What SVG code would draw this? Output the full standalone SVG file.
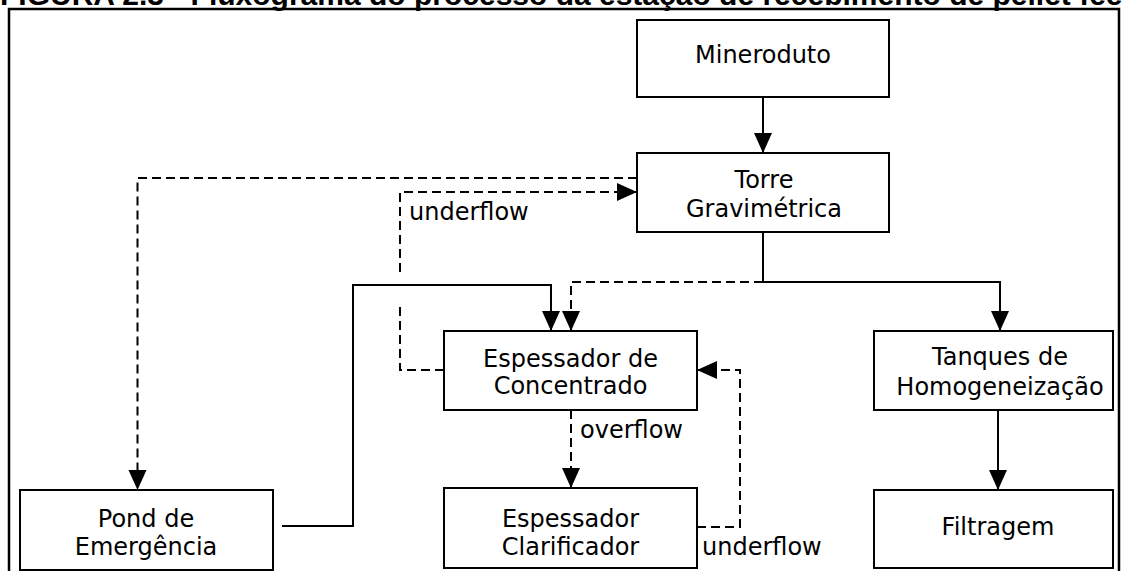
<svg xmlns="http://www.w3.org/2000/svg" width="1123" height="571" viewBox="0 0 1123 571">
<defs>
<marker id="ah" markerUnits="userSpaceOnUse" markerWidth="20" markerHeight="20" viewBox="0 0 20 20" refX="20" refY="10" orient="auto">
<path d="M0,1 L20,10 L0,19 Z" fill="#000"/>
</marker>
</defs>
<style>
.box{fill:#fff;stroke:#000;stroke-width:2}
.t{font-family:"DejaVu Sans",Verdana,sans-serif;font-size:24px;fill:#000;text-anchor:middle}
.lbl{font-family:"DejaVu Sans",Verdana,sans-serif;font-size:24px;fill:#000}
.c{fill:none;stroke:#000;stroke-width:2}
.d{fill:none;stroke:#000;stroke-width:2;stroke-dasharray:9 5}
.title{font-family:"Liberation Sans",Arial,sans-serif;font-weight:bold;font-size:30px;fill:#000}
</style>
<rect width="1123" height="571" fill="#fff"/>
<text class="title" x="0" y="5">FIGURA 2.3 - Fluxograma do processo da estação de recebimento de pellet feed</text>
<path d="M9,571 V9 H1119 V571" fill="none" stroke="#000" stroke-width="2.5"/>
<g id="connectors">
<path class="c" d="M763,97 V153" marker-end="url(#ah)"/>
<path class="d" d="M637,178 H137.5 V490" marker-end="url(#ah)"/>
<path class="d" d="M444,370 H400 V303"/>
<path class="d" d="M400,272 V192 H637" marker-end="url(#ah)"/>
<path class="d" d="M763,282 H571 V331" marker-end="url(#ah)"/>
<path class="c" d="M763,232 V282 H1000 V331" marker-end="url(#ah)"/>
<path class="c" d="M282,526 H353 V285 H551 V331" marker-end="url(#ah)"/>
<path class="d" d="M571,410 V488" marker-end="url(#ah)"/>
<path class="d" d="M697,527 H740 V370 H697" marker-end="url(#ah)"/>
<path class="c" d="M998,410 V490" marker-end="url(#ah)"/>
<text class="lbl" x="409" y="220">underflow</text>
<text class="lbl" x="580" y="438">overflow</text>
<text class="lbl" x="702" y="555">underflow</text>
</g>
<g id="mineroduto">
<rect class="box" x="637" y="20" width="252" height="77"/>
<text class="t" x="763" y="63">Mineroduto</text>
</g>
<g id="torre">
<rect class="box" x="637" y="153" width="252" height="79"/>
<text class="t" x="764" y="188">Torre</text>
<text class="t" x="764" y="217">Gravimétrica</text>
</g>
<g id="pond">
<rect class="box" x="20" y="490" width="253" height="80"/>
<text class="t" x="146" y="527">Pond de</text>
<text class="t" x="146" y="555">Emergência</text>
</g>
<g id="esp-concentrado">
<rect class="box" x="444" y="331" width="253" height="79"/>
<text class="t" x="570.5" y="367">Espessador de</text>
<text class="t" x="570.5" y="394">Concentrado</text>
</g>
<g id="esp-clarificador">
<rect class="box" x="444" y="488" width="253" height="80"/>
<text class="t" x="570.5" y="527">Espessador</text>
<text class="t" x="570.5" y="555">Clarificador</text>
</g>
<g id="tanques">
<rect class="box" x="874" y="331" width="239" height="79"/>
<text class="t" x="1000" y="365">Tanques de</text>
<text class="t" x="1000" y="395">Homogeneização</text>
</g>
<g id="filtragem">
<rect class="box" x="874" y="490" width="239" height="78"/>
<text class="t" x="998" y="535">Filtragem</text>
</g>
</svg>
